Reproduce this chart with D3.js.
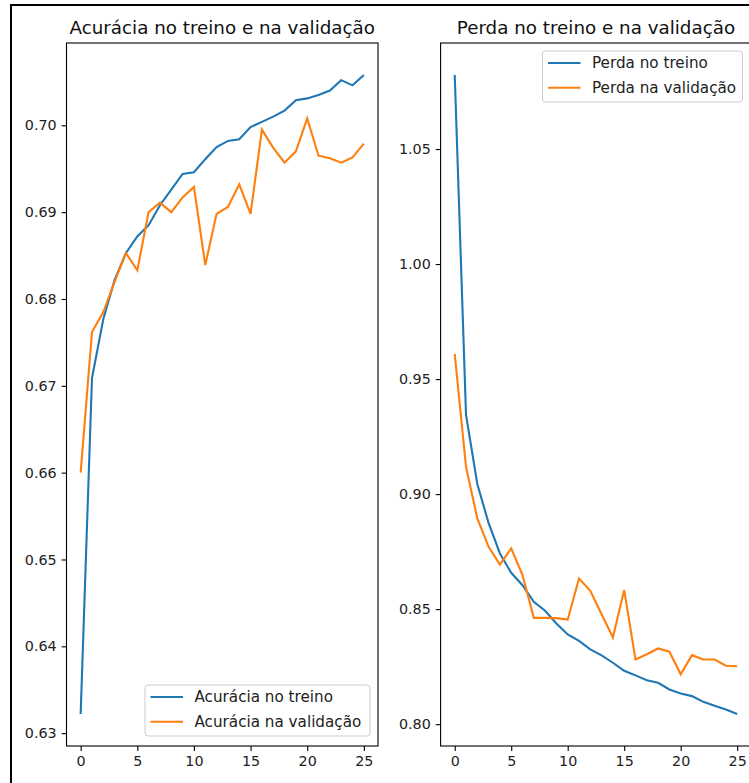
<html>
<head>
  <script src="https://d3js.org/d3.v7.min.js"></script>
  <style>
  body { margin: 0; background: #fff; }
  text { font-family: 'DejaVu Sans', sans-serif; }
  </style>
</head>
<body>
<script>

var width = 749,
    height = 783;

// epochs 0..25
var epochs = [0,1,2,3,4,5,6,7,8,9,10,11,12,13,14,15,16,17,18,19,20,21,22,23,24,25];

var accTrain = [0.6322,0.6709,0.6777,0.6822,0.6853,0.6872,0.6885,0.6908,0.6926,0.6944,0.6946,0.6961,0.6975,0.6982,0.6984,0.6998,0.7004,0.7010,0.7017,0.7029,0.7031,0.7035,0.7040,0.7052,0.7046,0.7058];
var accVal   = [0.6600,0.6762,0.6785,0.6820,0.6853,0.6833,0.6900,0.6911,0.6900,0.6917,0.6929,0.6839,0.6898,0.6906,0.6932,0.6898,0.6995,0.6974,0.6957,0.6970,0.7008,0.6965,0.6962,0.6957,0.6963,0.6979];

var lossTrain = [1.0822,0.9344,0.9044,0.8874,0.8742,0.8658,0.8604,0.8532,0.8493,0.8438,0.8390,0.8362,0.8325,0.8299,0.8267,0.8232,0.8212,0.8191,0.8180,0.8151,0.8133,0.8122,0.8097,0.8080,0.8064,0.8044];
var lossVal   = [0.9609,0.9119,0.8894,0.8771,0.8694,0.8764,0.8648,0.8462,0.8462,0.8461,0.8455,0.8633,0.8580,0.8478,0.8377,0.8583,0.8281,0.8304,0.8329,0.8315,0.8217,0.8300,0.8281,0.8281,0.8254,0.8252];

var accTicks  = [0.63,0.64,0.65,0.66,0.67,0.68,0.69,0.70];
var lossTicks = [0.80,0.85,0.90,0.95,1.00,1.05];
var xTicks    = [0,5,10,15,20,25];

var blue = '#1f77b4', orange = '#ff7f0e';

var svg = d3.select('body')
  .append('svg')
  .attr('width', width)
  .attr('height', height);

// screenshot frame
svg.append('path')
  .attr('d', 'M11,' + height + 'V5H' + width)
  .attr('fill', 'none')
  .attr('stroke', '#000')
  .attr('stroke-width', 2);

function panel(opts) {
  var g = svg.append('g');

  var x = d3.scaleLinear()
    .domain([-1.25, 26.25])
    .range([opts.left, opts.right]);

  var all = opts.train.concat(opts.val);
  var ext = d3.extent(all);
  var pad = (ext[1] - ext[0]) * 0.05;
  var y = d3.scaleLinear()
    .domain([ext[0] - pad, ext[1] + pad])
    .range([746, 43]);

  var line1 = d3.line()
    .x(function(d, i) { return x(epochs[i]); })
    .y(function(d) { return y(d); });

  g.append('path')
    .attr('d', line1(opts.train))
    .attr('fill', 'none')
    .attr('stroke', blue)
    .attr('stroke-width', 2.1);

  g.append('path')
    .attr('d', line1(opts.val))
    .attr('fill', 'none')
    .attr('stroke', orange)
    .attr('stroke-width', 2.1);

  // spines
  g.append('rect')
    .attr('x', opts.left)
    .attr('y', 43)
    .attr('width', opts.right - opts.left)
    .attr('height', 703)
    .attr('fill', 'none')
    .attr('stroke', '#000')
    .attr('stroke-width', 1.1);

  var xAxis = g.append('g')
    .attr('transform', 'translate(0,746)')
    .call(d3.axisBottom(x).tickValues(xTicks).tickSize(4.9).tickPadding(4.9).tickFormat(d3.format('d')));
  var yAxis = g.append('g')
    .attr('transform', 'translate(' + opts.left + ',0)')
    .call(d3.axisLeft(y).tickValues(opts.ticks).tickSize(4.9).tickPadding(4.9).tickFormat(d3.format('.2f')));

  [xAxis, yAxis].forEach(function(a) {
    a.select('.domain').remove();
    a.selectAll('line').attr('stroke', '#000').attr('stroke-width', 1.1);
    a.selectAll('text')
      .attr('fill', '#222')
      .style('font-family', "'DejaVu Sans', sans-serif")
      .style('font-size', '14.3px');
  });

  g.append('text')
    .attr('x', (opts.left + opts.right) / 2)
    .attr('y', 33.5)
    .attr('text-anchor', 'middle')
    .attr('fill', '#111')
    .style('font-size', '18.3px')
    .text(opts.title);

  // legend
  var lg = g.append('g').attr('transform', 'translate(' + opts.legX + ',' + opts.legY + ')');
  lg.append('rect')
    .attr('width', opts.legW)
    .attr('height', 51)
    .attr('rx', 3)
    .attr('fill', 'rgba(255,255,255,0.8)')
    .attr('stroke', '#cccccc')
    .attr('stroke-width', 1);
  opts.labels.forEach(function(lab, i) {
    var cy = 12 + i * 24.7;
    lg.append('line')
      .attr('x1', 5.5).attr('x2', 38)
      .attr('y1', cy).attr('y2', cy)
      .attr('stroke', i === 0 ? blue : orange)
      .attr('stroke-width', 2.1);
    lg.append('text')
      .attr('x', 49.5)
      .attr('y', cy)
      .attr('dy', '0.35em')
      .attr('fill', '#222')
      .style('font-size', '15.2px')
      .text(lab);
  });
}

panel({
  left: 66.5, right: 378,
  train: accTrain, val: accVal, ticks: accTicks,
  title: 'Acurácia no treino e na validação',
  labels: ['Acurácia no treino', 'Acurácia na validação'],
  legX: 145, legY: 685, legW: 225
});

panel({
  left: 440.6, right: 751.3,
  train: lossTrain, val: lossVal, ticks: lossTicks,
  title: 'Perda no treino e na validação',
  labels: ['Perda no treino', 'Perda na validação'],
  legX: 542.5, legY: 51, legW: 200
});

</script>
</body>
</html>
